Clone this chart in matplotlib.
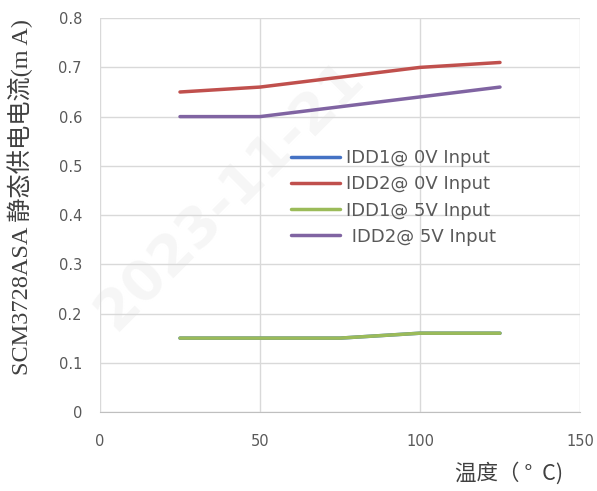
import matplotlib
matplotlib.use("Agg")
import matplotlib.pyplot as plt

# temperature points and currents (mA)
temps = [25, 50, 75, 100, 125]
idd1_0v = [0.15, 0.15, 0.15, 0.16, 0.16]
idd2_0v = [0.65, 0.66, 0.68, 0.70, 0.71]
idd1_5v = [0.15, 0.15, 0.15, 0.16, 0.16]
idd2_5v = [0.60, 0.60, 0.62, 0.64, 0.66]

series = [
    ("IDD1@ 0V Input", idd1_0v, "#4472C4"),
    ("IDD2@ 0V Input", idd2_0v, "#C0504D"),
    ("IDD1@ 5V Input", idd1_5v, "#9BBB59"),
    (" IDD2@ 5V Input", idd2_5v, "#8064A2"),
]

fig = plt.figure(figsize=(5.97, 4.91), dpi=100)
ax = fig.add_axes([0.1675, 0.161, 0.804, 0.802])

for name, vals, col in series:
    ax.plot(temps, vals, color=col, linewidth=2.5, label=name, solid_capstyle="round")

ax.set_xlim(0, 150)
ax.set_ylim(0, 0.8)
ax.set_xticks([0, 50, 100, 150])
ax.set_yticks([0, 0.1, 0.2, 0.3, 0.4, 0.5, 0.6, 0.7, 0.8])
ax.set_yticklabels(["0", "0.1", "0.2", "0.3", "0.4", "0.5", "0.6", "0.7", "0.8"])
ax.grid(True, color="#D9D9D9", linewidth=1)
ax.set_axisbelow(True)
for s in ["top", "right", "left"]:
    ax.spines[s].set_visible(False)
ax.spines["bottom"].set_color("#BFBFBF")
ax.tick_params(length=0, labelsize=10.5, colors="#595959")
ax.tick_params(axis="x", pad=16)
ax.tick_params(axis="y", pad=13)

ax.set_ylabel("SCM3728ASA 静态供电电流(m A)", fontsize=17.5, color="#404040",
              family=["Liberation Serif", "Noto Sans CJK SC"])
ax.yaxis.set_label_coords(-0.14, 0.546)
fig.text(0.852, 0.022, "温度（ °  C)", fontsize=15.5, color="#404040",
         family=["Noto Sans CJK SC", "DejaVu Sans"], ha="center")

# faint watermark
ax.text(0.27, 0.55, "2023-11-21", transform=ax.transAxes, fontsize=40,
        color="#F6F6F6", rotation=45, ha="center", va="center",
        fontweight="bold", zorder=0)

ax.legend(loc="upper left", bbox_to_anchor=(0.38, 0.69), frameon=False,
          fontsize=13, labelcolor="#595959", handlelength=2.7, handletextpad=0.3,
          labelspacing=0.45, borderpad=0)

fig.savefig("out.png", dpi=100)
